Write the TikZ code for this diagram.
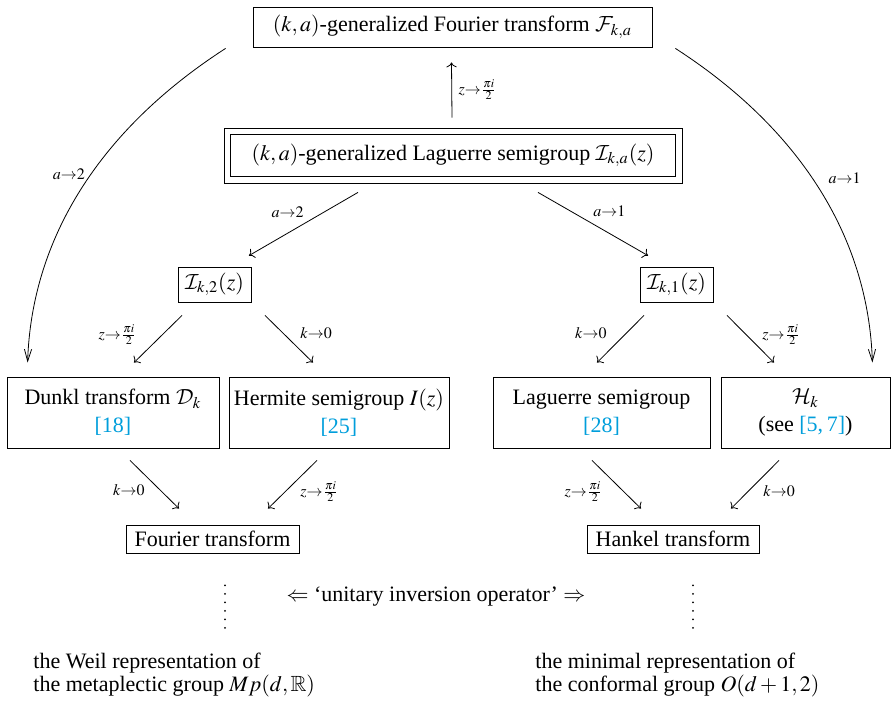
\documentclass[tikz,border=0pt]{standalone}
\usepackage{mathptmx}
\usepackage{amssymb}
\DeclareMathAlphabet{\mathcal}{OMS}{cmsy}{m}{n}
\usepackage[no-math]{fontspec}
\setmainfont{Liberation Serif}
\usetikzlibrary{calc,arrows.meta,positioning}
\definecolor{citecolor}{RGB}{0,158,219}
\newcommand{\citeref}[1]{\textcolor{citecolor}{[#1]}}

\begin{document}
\begin{tikzpicture}[x=0.5pt,y=-0.5pt,
    box/.style ={draw, inner sep=0pt, align=center, font=\fontsize{11}{14}\selectfont},
    lbl/.style ={inner sep=1pt, font=\fontsize{8}{9}\selectfont},
    arr/.style ={->},
    bigarr/.style ={-{Straight Barb[length=6pt,width=3.6pt]}},
    dots/.style ={line width=1pt, line cap=round, dash pattern=on 0pt off 4.25pt}]
   \useasboundingbox (0,0) rectangle (891,703);
   % transforms and semigroups
   \node[box, minimum width=199.5pt, minimum height=20pt] (F) at (452.5,27)
      {$(k,a)$-generalized Fourier transform $\mathcal{F}_{k,a}$};
   \node[box, minimum width=229pt, minimum height=27.5pt] (L) at (453,155.5)
      {$(k,a)$-generalized Laguerre semigroup $\mathcal{I}_{k,a}(z)$};
   \draw ($(L.south west)+(7,-7)$) rectangle ($(L.north east)+(-7,7)$);
   \node[box, minimum width=36.5pt, minimum height=17.5pt] (Ik2) at (214.5,284.5) {$\mathcal{I}_{k,2}(z)$};
   \node[box, minimum width=36.5pt, minimum height=17.5pt] (Ik1) at (676.5,284.5) {$\mathcal{I}_{k,1}(z)$};
   \node[box, minimum width=106pt, minimum height=35.5pt] (Dunkl) at (113,412.5)
      {Dunkl transform $\mathcal{D}_k$\\\citeref{18}};
   \node[box, minimum width=110pt, minimum height=35.5pt] (Hermite) at (339,412.5)
      {Hermite semigroup $I(z)$\\\citeref{25}};
   \node[box, minimum width=108.5pt, minimum height=35.5pt] (Laguerre) at (601.5,412.5)
      {Laguerre semigroup\\\citeref{28}};
   \node[box, minimum width=84.5pt, minimum height=35.5pt] (H) at (805.5,412.5)
      {$\mathcal{H}_k$\\(see \citeref{5,\,7})};
   \node[box, minimum width=86.5pt, minimum height=14pt] (Fourier) at (212.5,539) {Fourier transform};
   \node[box, minimum width=86pt, minimum height=14pt] (Hankel) at (673,539) {Hankel transform};
   \node[font=\fontsize{11}{14}\selectfont] (inversion) at (436,597)
      {$\Leftarrow$ ‘unitary inversion operator’ $\Rightarrow$};
   \node[anchor=west, inner sep=0pt, align=left, font=\fontsize{11}{10.5}\selectfont] (weil) at (33,675)
      {the Weil representation of\\the metaplectic group $Mp(d,\mathbb{R})$};
   \node[anchor=west, inner sep=0pt, align=left, font=\fontsize{11}{10.5}\selectfont] (minimal) at (535,675)
      {the minimal representation of\\the conformal group $O(d+1,2)$};

   % limits
   \draw[arr] ($(L.north)+(-1,-10)$) -- node[lbl, anchor=west, xshift=2.25pt] {$z{\to}\frac{\pi i}{2}$} ($(F.south)+(-1,15)$);
   \draw[arr] ($(L.south)+(-95,9)$) -- node[lbl, anchor=south east, xshift=1.25pt, yshift=2pt] {$a{\to}2$} ($(Ik2.north)+(34.5,-11)$);
   \draw[arr] ($(L.south)+(85,9)$) -- node[lbl, anchor=south west, xshift=-1pt, yshift=2.5pt] {$a{\to}1$} ($(Ik1.north)+(-28.5,-11)$);
   \draw[arr] ($(Ik2.south)+(-32.5,13)$) -- node[lbl, anchor=east, xshift=-9.5pt, yshift=2pt] {$z{\to}\frac{\pi i}{2}$} ($(Dunkl.north)+(21,-14)$);
   \draw[arr] ($(Ik2.south)+(50.5,13)$) -- node[lbl, anchor=west, xshift=4.5pt, yshift=2.75pt] {$k{\to}0$} ($(Hermite.north)+(-26,-14)$);
   \draw[arr] ($(Ik1.south)+(-32.5,13)$) -- node[lbl, anchor=east, xshift=-5.75pt, yshift=3pt] {$k{\to}0$} ($(Laguerre.north)+(-4.5,-14)$);
   \draw[arr] ($(Ik1.south)+(50.5,13)$) -- node[lbl, anchor=west, xshift=4.75pt, yshift=2pt] {$z{\to}\frac{\pi i}{2}$} ($(H.north)+(-31.5,-14)$);
   \draw[arr] ($(Dunkl.south)+(17,12)$) -- node[lbl, anchor=east, xshift=-3.75pt, yshift=-2.75pt] {$k{\to}0$} ($(Fourier.north)+(-33.5,-16)$);
   \draw[arr] ($(Hermite.south)+(-22,12)$) -- node[lbl, anchor=west, xshift=2.75pt, yshift=-3.75pt] {$z{\to}\frac{\pi i}{2}$} ($(Fourier.north)+(55.5,-16)$);
   \draw[arr] ($(Laguerre.south)+(-9.5,12)$) -- node[lbl, anchor=east, xshift=-5.75pt, yshift=-3.75pt] {$z{\to}\frac{\pi i}{2}$} ($(Hankel.north)+(-32,-16)$);
   \draw[arr] ($(H.south)+(-26.5,12)$) -- node[lbl, anchor=west, xshift=3pt, yshift=-3.25pt] {$k{\to}0$} ($(Hankel.north)+(58,-16)$);
   \draw[bigarr] ($(F.south west)+(-27,1)$) .. controls +(-127,82) and +(4,-123) ..
      node[lbl, pos=0.45, anchor=east, xshift=-1.75pt] {$a{\to}2$} ($(Dunkl.north west)+(21,-14)$);
   \draw[bigarr] ($(F.south east)+(23,1)$) .. controls +(127,82) and +(-4,-123) ..
      node[lbl, pos=0.45, anchor=west, xshift=8.25pt, yshift=-1.85pt] {$a{\to}1$} ($(H.north east)+(-18,-14)$);
   \draw[dots] ($(Fourier.south)+(12.5,32)$) -- ($(Fourier.south)+(12.5,83)$);
   \draw[dots] ($(Hankel.south)+(20,32)$) -- ($(Hankel.south)+(20,83)$);
\end{tikzpicture}
\end{document}
